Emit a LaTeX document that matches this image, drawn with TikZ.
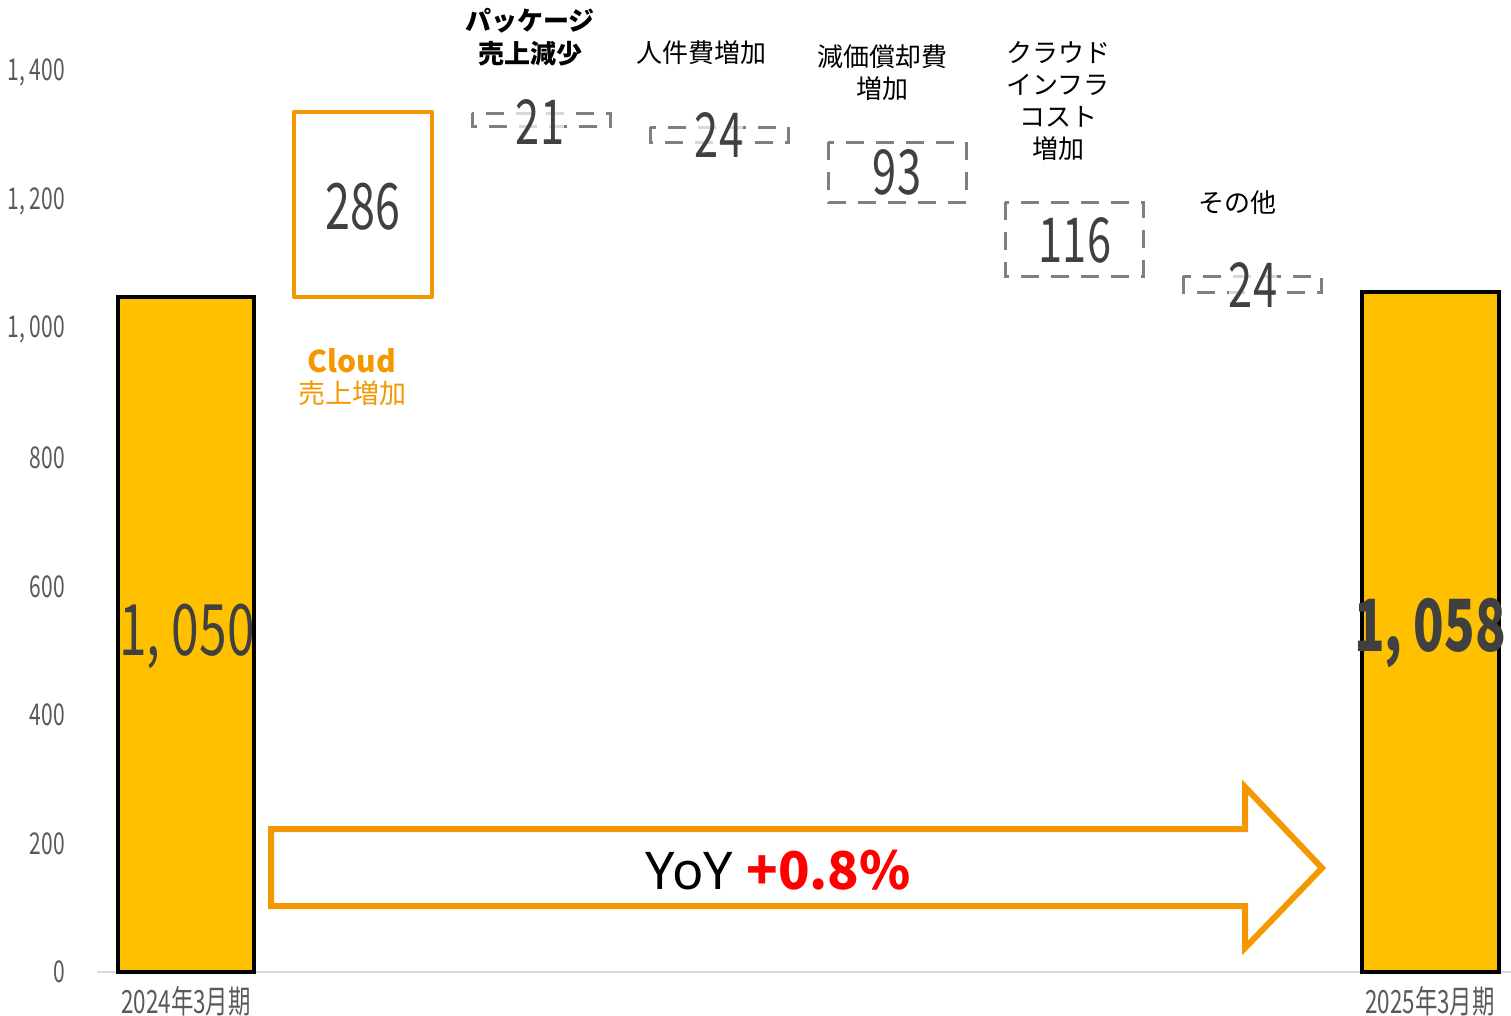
\documentclass[tikz,border=0pt]{standalone}
\usepackage{fontspec}
\setmainfont{Noto Sans CJK JP}
\newfontfamily\jp{Noto Sans CJK JP}
\newfontfamily\numf[FakeStretch=0.7]{Noto Sans CJK JP}
\newfontfamily\latf{Noto Sans}
\definecolor{gold}{HTML}{FFC000}
\definecolor{orng}{HTML}{F39800}
\definecolor{dgray}{HTML}{7F7F7F}
\definecolor{numc}{HTML}{404040}
\definecolor{axc}{HTML}{595959}
\definecolor{axl}{HTML}{D9D9D9}
\definecolor{redc}{HTML}{FF0000}
\tikzset{
  barbox/.style={draw=black, line width=3.5pt, fill=gold},
  cloudbox/.style={draw=orng, line width=4.5pt, line join=round},
  dashbox/.style={draw=dgray, line width=3pt, dash pattern=on 18pt off 12pt},
  axlab/.style={anchor=east, text=axc, font=\numf\fontsize{30}{30}\selectfont, inner sep=0pt},
  catlab/.style={align=center, font=\jp\fontsize{26}{32}\selectfont, inner sep=0pt},
  valnum/.style={text=numc, font=\numf\fontsize{64}{64}\selectfont, inner sep=0pt},
  smallnum/.style={valnum, font=\numf\fontsize{62}{62}\selectfont},
  botlab/.style={text=axc, font=\numf\fontsize{32}{32}\selectfont, inner sep=0pt},
}
\begin{document}
\begin{tikzpicture}[x=1pt,y=-1pt]
\path[use as bounding box] (0,0) rectangle (1511,1015);
% axis line
\coordinate (axL) at (97,972);
\coordinate (axR) at (1511,972);
\draw[axl, line width=2pt] (axL) -- (axR);
% y axis labels
\node[axlab] (y0) at (65,972) {0};
\node[axlab] (y200) at (65,844) {200};
\node[axlab] (y400) at (65,715) {400};
\node[axlab] (y600) at (65,587) {600};
\node[axlab] (y800) at (65,458) {800};
\node[axlab] (y1000) at (65,329) {1, 000};
\node[axlab] (y1200) at (65,201) {1, 200};
\node[axlab] (y1400) at (65,72) {1, 400};
% bars
\draw[barbox] (118,297) rectangle (254,972);
\draw[barbox] (1362,292) rectangle (1499,972);
\node[valnum, font=\numf\fontsize{71}{71}\selectfont] (v1050) at (187,636) {1, 050};
\node[valnum, font=\numf\bfseries\fontsize{72}{72}\selectfont] (v1058) at (1430,633) {1, 058};
% cloud box
\draw[cloudbox] (294,112) rectangle (432,297);
\node[valnum] (v286) at (363,207) {286};
\node[catlab, text=orng, font=\jp\bfseries\fontsize{30}{30}\selectfont] (cl1) at (352,361) {Cloud};
\node[catlab, text=orng, font=\jp\fontsize{27}{27}\selectfont] (cl2) at (352,393) {売上増加};
% dashed boxes
\draw[dashbox] (472,113) rectangle (610,126);
\draw[dashbox] (650,127) rectangle (788,142);
\draw[dashbox] (828,142) rectangle (966,202);
\draw[dashbox] (1005,202) rectangle (1143,276);
\draw[dashbox] (1183,276) rectangle (1321,292);
\node[smallnum, fill=white, fill opacity=0.7, text opacity=1] (v21) at (540,122) {21};
\node[smallnum, fill=white, fill opacity=0.7, text opacity=1] (v24a) at (719,135) {24};
\node[smallnum] (v93) at (897,172) {93};
\node[smallnum] (v116) at (1075,240) {116};
\node[smallnum, fill=white, fill opacity=0.7, text opacity=1] (v24b) at (1253,285) {24};
% category labels
\node[catlab, font=\jp\bfseries\fontsize{26}{33}\selectfont] (c1) at (530,37) {パッケージ\\売上減少};
\node[catlab] (c2) at (701,53) {人件費増加};
\node[catlab] (c3) at (882,73) {減価償却費\\増加};
\node[catlab] (c4) at (1058,101) {クラウド\\インフラ\\コスト\\増加};
\node[catlab] (c5) at (1237,203) {その他};
% arrow
\draw[draw=orng, fill=white, line width=6pt, line join=miter]
  (271,829) -- (1245,829) -- (1245,787) -- (1322,868) -- (1245,948) -- (1245,906) -- (271,906) -- cycle;
\node[inner sep=0pt, font=\latf\fontsize{52}{52}\selectfont] (yoy) at (778,870) {YoY \textcolor{redc}{\jp\bfseries +0.8\%}};
% bottom labels
\node[botlab] (b1) at (186,1001) {2024年3月期};
\node[botlab] (b2) at (1430,1001) {2025年3月期};
\end{tikzpicture}
\end{document}
